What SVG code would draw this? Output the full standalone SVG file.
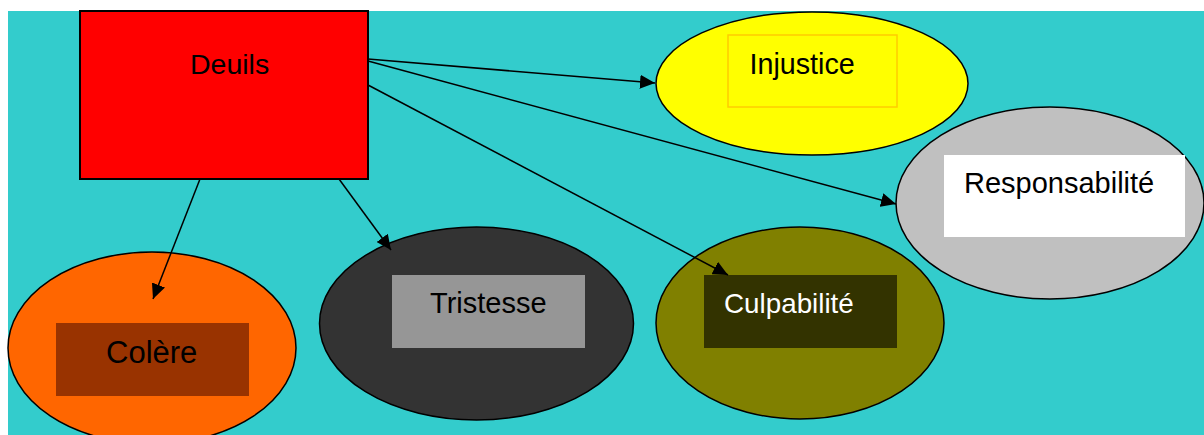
<svg xmlns="http://www.w3.org/2000/svg" width="1204" height="435" viewBox="0 0 1204 435">
<style>
  .lbl { font-family: "Liberation Sans", Arial, sans-serif; }
  .ell { stroke: #000; stroke-width: 1.5; }
  .conn { stroke: #000; stroke-width: 1.5; fill: none; marker-end: url(#arrow); }
</style>
<defs>
  <marker id="arrow" markerUnits="userSpaceOnUse" markerWidth="16" markerHeight="14" refX="15" refY="7" orient="auto">
    <path d="M0,0 L15,7 L0,14 Z" fill="#000"/>
  </marker>
</defs>
<rect x="0" y="0" width="1204" height="435" fill="#fff"/>
<rect x="8" y="11" width="1196" height="424" fill="#33CCCC"/>

<g id="node-deuils">
  <rect x="80" y="11" width="288" height="168" fill="#FF0000" stroke="#000" stroke-width="2"/>
  <text class="lbl" x="190" y="74" font-size="28.5" fill="#000">Deuils</text>
</g>
<g id="node-injustice">
  <ellipse class="ell" cx="812" cy="83.5" rx="156" ry="71.5" fill="#FFFF00"/>
  <rect x="728" y="35" width="169" height="72" fill="#FFFF00" stroke="#FFCC00" stroke-width="1.5"/>
  <text class="lbl" x="749.5" y="74" font-size="28.7" fill="#000">Injustice</text>
</g>
<g id="node-responsabilite">
  <ellipse class="ell" cx="1050" cy="203" rx="154" ry="96" fill="#C0C0C0"/>
  <rect x="944" y="155" width="241" height="82" fill="#FFFFFF"/>
  <text class="lbl" x="964" y="193" font-size="29" fill="#000">Responsabilité</text>
</g>
<g id="node-culpabilite">
  <ellipse class="ell" cx="800" cy="323" rx="144" ry="96" fill="#808000"/>
  <rect x="704" y="275" width="193" height="73" fill="#333300"/>
  <text class="lbl" x="724" y="313" font-size="27.8" fill="#FFFFFF">Culpabilité</text>
</g>
<g id="node-tristesse">
  <ellipse class="ell" cx="476.5" cy="323.5" rx="157" ry="96.5" fill="#333333"/>
  <rect x="392" y="275" width="193" height="73" fill="#969696"/>
  <text class="lbl" x="430" y="313" font-size="29" fill="#000">Tristesse</text>
</g>
<g id="node-colere">
  <ellipse class="ell" cx="152" cy="348" rx="144" ry="96" fill="#FF6600"/>
  <rect x="56" y="323" width="193" height="73" fill="#993300"/>
  <text class="lbl" x="106" y="363" font-size="31" fill="#000">Colère</text>
</g>

<g id="connectors">
  <line class="conn" x1="368" y1="59" x2="655" y2="83"/>
  <line class="conn" x1="368" y1="61" x2="896" y2="204"/>
  <line class="conn" x1="368" y1="85" x2="728" y2="275"/>
  <line class="conn" x1="339" y1="179" x2="391" y2="250"/>
  <line class="conn" x1="200" y1="179" x2="153" y2="299"/>
</g>
</svg>
